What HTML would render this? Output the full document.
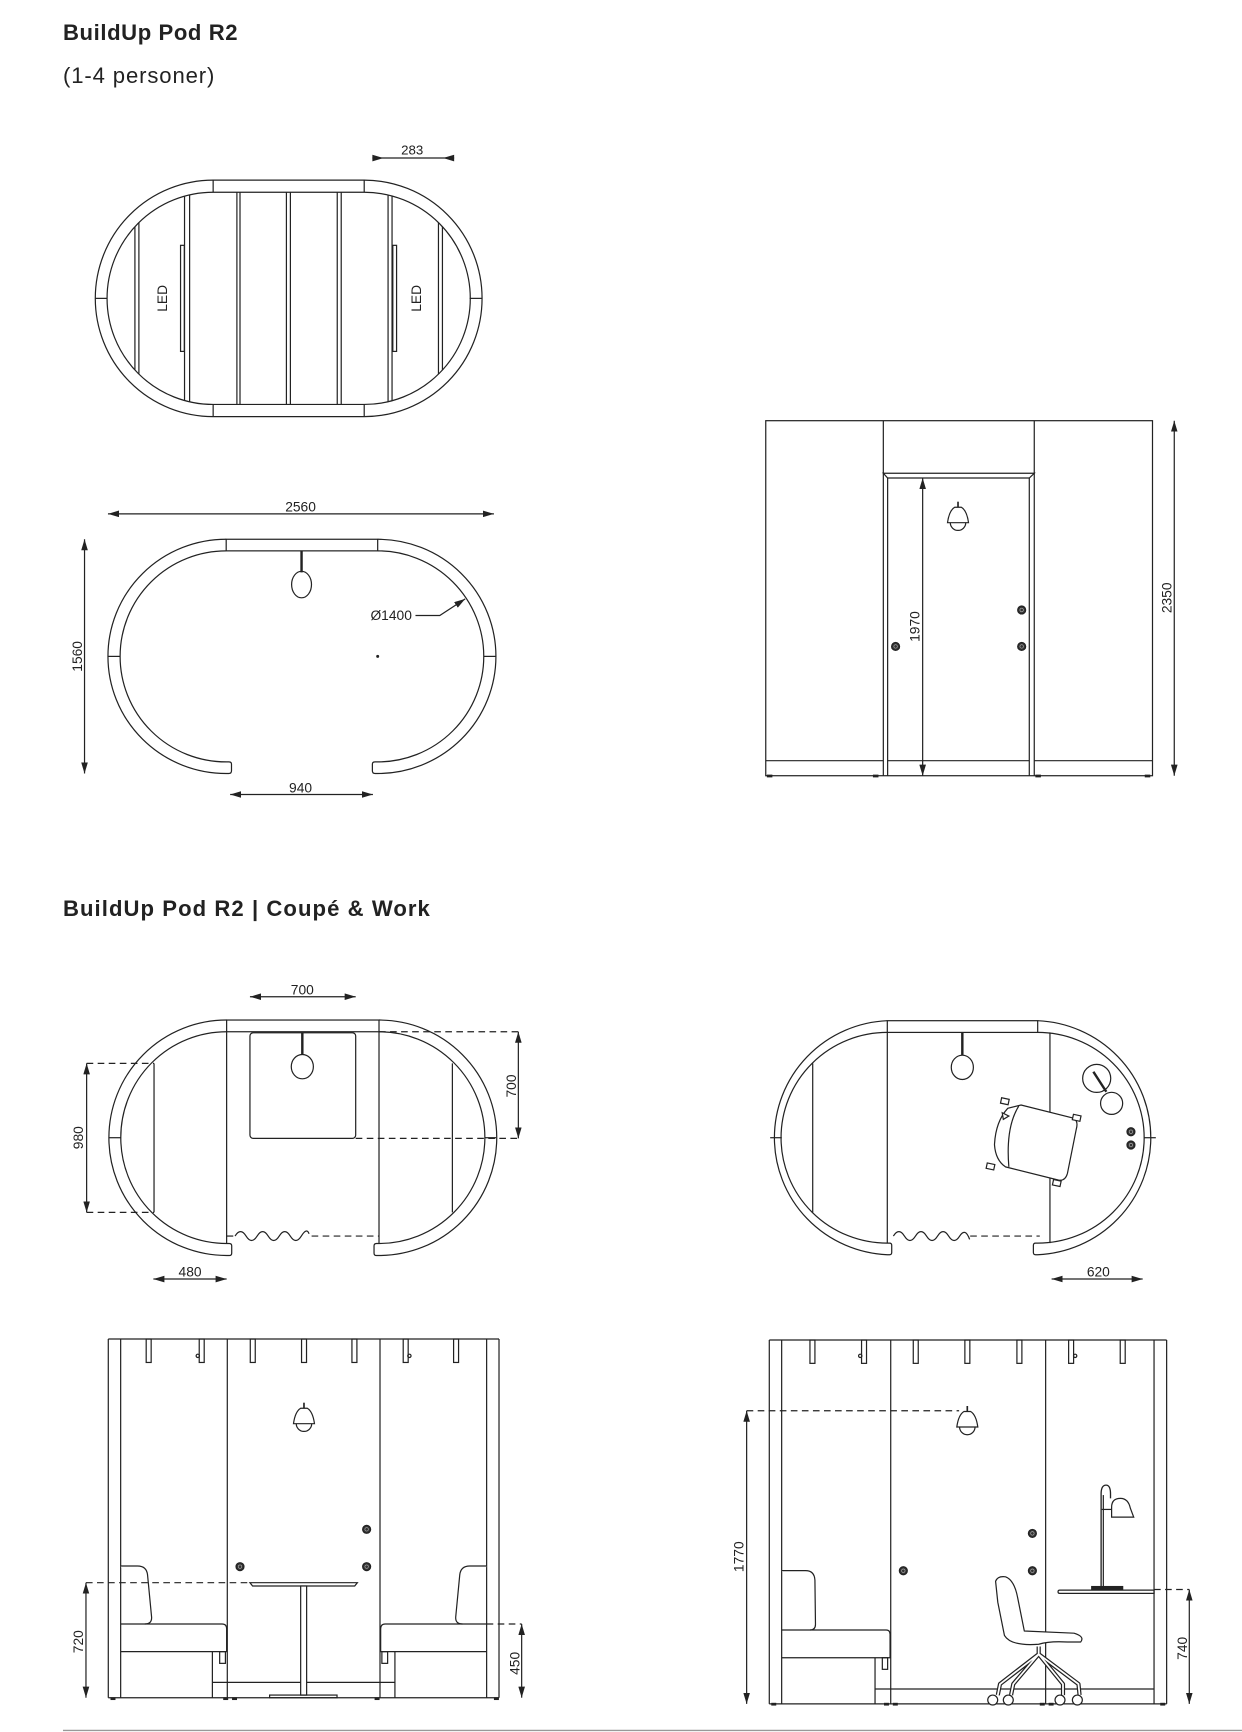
<!DOCTYPE html>
<html><head><meta charset="utf-8"><style>
html,body{margin:0;padding:0;background:#fff}
svg{display:block}
text{font-family:"Liberation Sans",sans-serif;fill:#222}
</style></head><body>
<svg width="1242" height="1732" viewBox="0 0 1124 1567.4" xmlns="http://www.w3.org/2000/svg">
<defs>
<marker id="a" viewBox="0 0 10 6" refX="10" refY="3" markerWidth="10" markerHeight="6" markerUnits="userSpaceOnUse" orient="auto-start-reverse"><path d="M0,0 L10,3 L0,6 Z" fill="#222"/></marker>
<clipPath id="c1"><path d="M192.9,174 H329.6 A96,96 0 0 1 329.6,366 H192.9 A96,96 0 0 1 192.9,174 Z"/></clipPath>
<g id="lamp"><line x1="0" y1="0" x2="0" y2="5" stroke="#222" stroke-width="1.5"/><path d="M-3,5 Q-8,8 -9.5,19 L9.5,19 Q8,8 3,5 Z" fill="#fff" stroke="#222" stroke-width="1.1"/><path d="M-7,19 A7,7 0 0 0 7,19" fill="none" stroke="#222" stroke-width="1.1"/></g>
<g id="dot"><circle r="3.6" fill="#333"/><circle r="1.6" fill="none" stroke="#aaa" stroke-width="0.6"/></g>
</defs>
<g stroke="#222" stroke-width="1.1" fill="none">

<!-- Titles -->
<text x="57" y="36" font-size="20" font-weight="bold" stroke="none" textLength="158">BuildUp Pod R2</text>
<text x="57" y="75" font-size="20" stroke="none" textLength="137">(1-4 personer)</text>
<text x="57" y="829" font-size="20" font-weight="bold" stroke="none" textLength="332">BuildUp Pod R2 | Coupé &amp; Work</text>

<!-- Plan 1 -->
<path d="M192.9,163 H329.6 A106.7,107 0 0 1 329.6,377 H192.9 A106.7,107 0 0 1 192.9,163 Z"/>
<path d="M192.9,174 H329.6 A96,96 0 0 1 329.6,366 H192.9 A96,96 0 0 1 192.9,174 Z"/>
<line x1="192.9" y1="163" x2="192.9" y2="174"/><line x1="329.6" y1="163" x2="329.6" y2="174"/>
<line x1="192.9" y1="366" x2="192.9" y2="377"/><line x1="329.6" y1="366" x2="329.6" y2="377"/>
<line x1="86" y1="270" x2="97" y2="270"/><line x1="425" y1="270" x2="436" y2="270"/>
<g clip-path="url(#c1)">
<path d="M122.1,170V370M125.7,170V370M167,170V370M171.6,170V370M214.4,170V370M217.2,170V370M259.2,170V370M262.8,170V370M305.2,170V370M308.8,170V370M351.2,170V370M354.8,170V370M396.8,170V370M400.4,170V370"/>
</g>
<rect x="163.4" y="222" width="3.4" height="96"/>
<rect x="355.5" y="222" width="3.4" height="96"/>
<text transform="translate(151,270) rotate(-90)" font-size="12.5" text-anchor="middle" stroke="none">LED</text>
<text transform="translate(381,270) rotate(-90)" font-size="12.5" text-anchor="middle" stroke="none">LED</text>
<line x1="337" y1="143" x2="411" y2="143"/>
<path d="M337,140 L347,143 L337,146 Z M411,140 L401,143 L411,146 Z" fill="#222" stroke="none"/>
<text x="373" y="140" font-size="12" text-anchor="middle" stroke="none">283</text>

<!-- Plan 2 -->
<line x1="97.7" y1="465" x2="447" y2="465" marker-start="url(#a)" marker-end="url(#a)"/>
<text x="272" y="463" font-size="12.5" text-anchor="middle" stroke="none">2560</text>
<rect x="204.7" y="488" width="137.1" height="10.5"/>
<path d="M204.7,488 A107,106 0 0 0 204.7,700 H207 Q209.5,700 209.5,697.5 V691.5 Q209.5,689.5 207,689.5 H204.7 A96,95.5 0 0 1 204.7,498.5"/>
<path d="M341.8,488 A107,106 0 0 1 341.8,700 H339.5 Q337,700 337,697.5 V691.5 Q337,689.5 339.5,689.5 H341.8 A96,95.5 0 0 0 341.8,498.5"/>
<line x1="98" y1="594" x2="108.5" y2="594"/><line x1="438" y1="594" x2="448.5" y2="594"/>
<line x1="272.9" y1="498.5" x2="272.9" y2="518" stroke-width="2.2"/>
<ellipse cx="272.9" cy="529" rx="9" ry="12"/>
<text x="354" y="561" font-size="12.5" text-anchor="middle" stroke="none">Ø1400</text>
<polyline points="376,557 398,557 421,542" marker-end="url(#a)"/>
<circle cx="341.8" cy="594" r="0.8" fill="#222"/>
<line x1="76.5" y1="488" x2="76.5" y2="700" marker-start="url(#a)" marker-end="url(#a)"/>
<text transform="translate(74,594) rotate(-90)" font-size="12.5" text-anchor="middle" stroke="none">1560</text>
<line x1="208.3" y1="719" x2="337.5" y2="719" marker-start="url(#a)" marker-end="url(#a)"/>
<text x="272" y="717" font-size="12.5" text-anchor="middle" stroke="none">940</text>

<!-- Elevation top right -->
<rect x="693" y="380.7" width="350" height="321.3"/>
<line x1="799.4" y1="380.7" x2="799.4" y2="702"/><line x1="936" y1="380.7" x2="936" y2="702"/>
<path d="M799.4,428.3 H936 L931.5,432.6 H803.3 Z"/>
<line x1="803.3" y1="432.6" x2="803.3" y2="702"/><line x1="931.5" y1="432.6" x2="931.5" y2="702"/>
<line x1="693" y1="688.4" x2="799.4" y2="688.4"/><line x1="803.3" y1="688.4" x2="931.5" y2="688.4"/><line x1="936" y1="688.4" x2="1043" y2="688.4"/>
<g fill="#222" stroke="none"><rect x="694" y="701" width="5" height="2.5"/><rect x="790" y="701" width="5" height="2.5"/><rect x="937" y="701" width="5" height="2.5"/><rect x="1036" y="701" width="5" height="2.5"/></g>
<use href="#lamp" x="867" y="454"/>
<use href="#dot" x="810.5" y="585"/><use href="#dot" x="924.6" y="552"/><use href="#dot" x="924.6" y="585"/>
<line x1="835" y1="432.6" x2="835" y2="702" marker-start="url(#a)" marker-end="url(#a)"/>
<text transform="translate(832,567) rotate(-90)" font-size="12.5" text-anchor="middle" stroke="none">1970</text>
<line x1="1062.7" y1="380.7" x2="1062.7" y2="702" marker-start="url(#a)" marker-end="url(#a)"/>
<text transform="translate(1060,541) rotate(-90)" font-size="12.5" text-anchor="middle" stroke="none">2350</text>

<!-- Plan 3 -->
<line x1="226.2" y1="902" x2="321.9" y2="902" marker-start="url(#a)" marker-end="url(#a)"/>
<text x="273.6" y="900" font-size="12.5" text-anchor="middle" stroke="none">700</text>
<rect x="205.1" y="923.1" width="137.9" height="10.6"/>
<path d="M205.1,923.1 A106.5,106.5 0 0 0 205.1,1136.2 H207.5 Q209.7,1136.2 209.7,1134 V1127.5 Q209.7,1125.3 207.5,1125.3 H205.1 A95.5,95.5 0 0 1 205.1,933.7"/>
<path d="M343,923.1 A106.5,106.5 0 0 1 343,1136.2 H340.7 Q338.5,1136.2 338.5,1134 V1127.5 Q338.5,1125.3 340.7,1125.3 H343 A95.5,95.5 0 0 0 343,933.7"/>
<line x1="205.1" y1="933.7" x2="205.1" y2="1125.3"/><line x1="343" y1="933.7" x2="343" y2="1125.3"/>
<line x1="99" y1="1029.6" x2="109.6" y2="1029.6"/><line x1="438.5" y1="1029.6" x2="449" y2="1029.6"/>
<line x1="139.4" y1="962.3" x2="139.4" y2="1097.2"/><line x1="409.4" y1="962.3" x2="409.4" y2="1097.2"/>
<rect x="226.2" y="934.6" width="95.7" height="95.6" rx="3"/>
<line x1="273.6" y1="934.6" x2="273.6" y2="954.5" stroke-width="2.2"/>
<ellipse cx="273.6" cy="965.3" rx="10" ry="11"/>
<g stroke-dasharray="6,4">
<line x1="343" y1="933.7" x2="470.6" y2="933.7"/>
<line x1="321.9" y1="1030.2" x2="470.6" y2="1030.2"/>
<line x1="78.4" y1="962.3" x2="139.4" y2="962.3"/>
<line x1="78.4" y1="1097.2" x2="139.4" y2="1097.2"/>
<line x1="282" y1="1118.6" x2="343" y2="1118.6"/>
<line x1="205.1" y1="1118.6" x2="212" y2="1118.6"/>
</g>
<path d="M212.7,1118.6 q5,-8 10,0 t10,0 t10,0 t10,0 t10,0 t10,0 t7,-2"/>
<line x1="469.1" y1="933.7" x2="469.1" y2="1030.2" marker-start="url(#a)" marker-end="url(#a)"/>
<text transform="translate(467,982.8) rotate(-90)" font-size="12.5" text-anchor="middle" stroke="none">700</text>
<line x1="78.4" y1="962.3" x2="78.4" y2="1097.2" marker-start="url(#a)" marker-end="url(#a)"/>
<text transform="translate(75,1029.6) rotate(-90)" font-size="12.5" text-anchor="middle" stroke="none">980</text>
<line x1="138.8" y1="1157.5" x2="205.1" y2="1157.5" marker-start="url(#a)" marker-end="url(#a)"/>
<text x="172" y="1155" font-size="12.5" text-anchor="middle" stroke="none">480</text>

<!-- Plan 4 -->
<rect x="803" y="923.7" width="136.1" height="10.6"/>
<path d="M803,923.7 A106.8,106 0 0 0 803,1135.5 H805 Q807,1135.5 807,1133.5 V1127 Q807,1125 805,1125 H803 A95.8,95 0 0 1 803,934.3"/>
<path d="M939.1,923.7 A107,106 0 0 1 939.1,1135.5 H937.2 Q935.2,1135.5 935.2,1133.5 V1127 Q935.2,1125 937.2,1125 H939.1 A96,95 0 0 0 939.1,934.3"/>
<line x1="803" y1="934.3" x2="803" y2="1125"/><line x1="950.2" y1="934.3" x2="950.2" y2="1125"/>
<line x1="697" y1="1029.6" x2="707.5" y2="1029.6"/><line x1="1035.3" y1="1029.6" x2="1046" y2="1029.6"/>
<line x1="735.5" y1="962.3" x2="735.5" y2="1097.2"/>
<line x1="870.9" y1="934.6" x2="870.9" y2="954.8" stroke-width="2.2"/>
<ellipse cx="870.9" cy="965.9" rx="10" ry="11"/>
<circle cx="992.5" cy="975.9" r="12.7"/><circle cx="1006" cy="998.5" r="10"/>
<line x1="989.5" y1="969.9" x2="1001.2" y2="988" stroke-width="2.2"/>
<use href="#dot" x="1023.5" y="1024.2"/><use href="#dot" x="1023.5" y="1036.2"/>
<path d="M924,1000 L972,1012 Q976,1015 974,1022 L966,1062 Q964,1069 958,1068 L910,1056 Q901,1050 900,1036 Q901,1015 912,1003 Z" fill="#fff"/>
<path d="M922,1001 Q910,1020 913,1056"/>
<g fill="#fff"><rect x="906" y="994" width="7" height="5" transform="rotate(12 909 996)"/><rect x="971" y="1009" width="7" height="5" transform="rotate(12 974 1011)"/><rect x="953" y="1068" width="7" height="5" transform="rotate(12 956 1070)"/><rect x="893" y="1053" width="7" height="5" transform="rotate(12 896 1055)"/><path d="M907,1007 L913,1010 L908,1013 Z"/></g>
<line x1="878" y1="1118.6" x2="941" y2="1118.6" stroke-dasharray="6,4"/>
<path d="M808.5,1118.6 q5,-8 10,0 t10,0 t10,0 t10,0 t10,0 t10,0 t9,3"/>
<line x1="951.7" y1="1157.5" x2="1034.1" y2="1157.5" marker-start="url(#a)" marker-end="url(#a)"/>
<text x="994" y="1155" font-size="12.5" text-anchor="middle" stroke="none">620</text>

<!-- Elevation bottom left -->
<line x1="98" y1="1211.8" x2="451.6" y2="1211.8"/>
<line x1="98" y1="1211.8" x2="98" y2="1536.4"/><line x1="451.6" y1="1211.8" x2="451.6" y2="1536.4"/>
<line x1="98" y1="1536.4" x2="451.6" y2="1536.4"/>
<line x1="109.2" y1="1211.8" x2="109.2" y2="1536.4"/><line x1="440.4" y1="1211.8" x2="440.4" y2="1536.4"/>
<line x1="205.7" y1="1211.8" x2="205.7" y2="1536.4"/><line x1="343.9" y1="1211.8" x2="343.9" y2="1536.4"/>
<g><rect x="132.3" y="1211.8" width="4.5" height="21.2"/><rect x="180.3" y="1211.8" width="4.5" height="21.2"/><rect x="226.5" y="1211.8" width="4.5" height="21.2"/><rect x="272.9" y="1211.8" width="4.5" height="21.2"/><rect x="318.5" y="1211.8" width="4.5" height="21.2"/><rect x="364.9" y="1211.8" width="4.5" height="21.2"/><rect x="410.5" y="1211.8" width="4.5" height="21.2"/>
<circle cx="179" cy="1227" r="1.5"/><circle cx="370.5" cy="1227" r="1.5"/></g>
<use href="#lamp" x="275.1" y="1269.4"/>
<use href="#dot" x="217.2" y="1417.8"/><use href="#dot" x="331.8" y="1384"/><use href="#dot" x="331.8" y="1417.8"/>
<g id="bench">
<path d="M109.2,1417.2 H124.5 Q132.5,1417.2 133.5,1425 L137.2,1463.5 Q137.5,1469.7 131,1469.7" fill="#fff"/>
<path d="M109.2,1469.7 H201 Q205.1,1469.7 205.1,1474 V1494.7 H109.2"/>
<line x1="192.2" y1="1494.7" x2="192.2" y2="1536.4"/>
<rect x="198.8" y="1494.7" width="5.2" height="10.6"/>
</g>
<use href="#bench" transform="translate(549.6,0) scale(-1,1)"/>
<line x1="192.2" y1="1522.5" x2="357.4" y2="1522.5"/>
<path d="M226.2,1432.3 H323.4 L321,1435.3 H228.6 Z"/>
<rect x="272.1" y="1435.3" width="5.4" height="98.7" fill="#fff"/>
<rect x="244" y="1534" width="61" height="2.4"/>
<g fill="#222" stroke="none"><rect x="100" y="1536" width="4.5" height="2.5"/><rect x="202" y="1536" width="4.5" height="2.5"/><rect x="210" y="1536" width="4.5" height="2.5"/><rect x="339" y="1536" width="4.5" height="2.5"/><rect x="447" y="1536" width="4.5" height="2.5"/></g>
<g stroke-dasharray="6,4"><line x1="77.8" y1="1432.3" x2="226.2" y2="1432.3"/><line x1="440.4" y1="1469.7" x2="472.1" y2="1469.7"/></g>
<line x1="77.8" y1="1432.3" x2="77.8" y2="1536.4" marker-start="url(#a)" marker-end="url(#a)"/>
<text transform="translate(75,1485.7) rotate(-90)" font-size="12.5" text-anchor="middle" stroke="none">720</text>
<line x1="472.1" y1="1469.7" x2="472.1" y2="1536.4" marker-start="url(#a)" marker-end="url(#a)"/>
<text transform="translate(470,1505.3) rotate(-90)" font-size="12.5" text-anchor="middle" stroke="none">450</text>

<!-- Elevation bottom right -->
<line x1="696.2" y1="1212.7" x2="1055.8" y2="1212.7"/>
<line x1="696.2" y1="1212.7" x2="696.2" y2="1542"/><line x1="1055.8" y1="1212.7" x2="1055.8" y2="1542"/>
<line x1="696.2" y1="1542" x2="1055.8" y2="1542"/>
<line x1="707.4" y1="1212.7" x2="707.4" y2="1542"/><line x1="1044.4" y1="1212.7" x2="1044.4" y2="1542"/>
<line x1="806.1" y1="1212.7" x2="806.1" y2="1542"/><line x1="946.3" y1="1212.7" x2="946.3" y2="1542"/>
<g><rect x="733" y="1212.7" width="4.5" height="21.1"/><rect x="779.7" y="1212.7" width="4.5" height="21.1"/><rect x="826.5" y="1212.7" width="4.5" height="21.1"/><rect x="873.2" y="1212.7" width="4.5" height="21.1"/><rect x="920.3" y="1212.7" width="4.5" height="21.1"/><rect x="967.1" y="1212.7" width="4.5" height="21.1"/><rect x="1013.8" y="1212.7" width="4.5" height="21.1"/>
<circle cx="778.5" cy="1227" r="1.5"/><circle cx="973" cy="1227" r="1.5"/></g>
<use href="#lamp" x="875.4" y="1272.4"/>
<use href="#dot" x="817.5" y="1421.5"/><use href="#dot" x="934.3" y="1387.7"/><use href="#dot" x="934.3" y="1421.5"/>
<path d="M707.4,1421.4 H729 Q737,1421.4 737.5,1430 L738,1470 Q738,1475.1 733,1475.1" fill="#fff"/>
<path d="M707.4,1475.1 H802 Q805.5,1475.1 805.5,1479 V1500.2 H707.4"/>
<line x1="791.9" y1="1500.2" x2="791.9" y2="1542"/>
<rect x="798.5" y="1500.2" width="4.8" height="10.5"/>
<line x1="791.9" y1="1528.5" x2="1044.4" y2="1528.5"/>
<g fill="#222" stroke="none"><rect x="698" y="1541" width="4.5" height="2.5"/><rect x="800" y="1541" width="4.5" height="2.5"/><rect x="808" y="1541" width="4.5" height="2.5"/><rect x="941" y="1541" width="4.5" height="2.5"/><rect x="949" y="1541" width="4.5" height="2.5"/><rect x="1050" y="1541" width="4.5" height="2.5"/></g>
<!-- desk -->
<path d="M959,1439 H1044.4 V1442 H959 Q957.5,1442 957.5,1440.5 Q957.5,1439 959,1439 Z"/>
<rect x="988" y="1435.8" width="28" height="2.4" fill="#222"/>
<path d="M996.5,1437 V1352 Q996.5,1344 1001,1344 Q1005,1344 1005,1352 V1356" stroke-width="1.2"/>
<line x1="998.5" y1="1437" x2="998.5" y2="1353"/>
<line x1="997" y1="1366" x2="1006" y2="1366"/>
<path d="M1006,1373 L1006,1364 Q1006,1356 1014,1356 Q1021,1356 1023,1365 L1026,1373 Z" fill="#fff"/>
<g stroke-dasharray="6,4"><line x1="675.7" y1="1276.7" x2="868" y2="1276.7"/><line x1="1044.4" y1="1438.5" x2="1076.3" y2="1438.5"/></g>
<line x1="675.7" y1="1276.7" x2="675.7" y2="1542" marker-start="url(#a)" marker-end="url(#a)"/>
<text transform="translate(673,1408.8) rotate(-90)" font-size="12.5" text-anchor="middle" stroke="none">1770</text>
<line x1="1076.3" y1="1438.5" x2="1076.3" y2="1542" marker-start="url(#a)" marker-end="url(#a)"/>
<text transform="translate(1074,1491.7) rotate(-90)" font-size="12.5" text-anchor="middle" stroke="none">740</text>
<!-- chair -->
<g stroke-linejoin="round">
<path d="M940,1490 L940,1497 L905,1524 L903,1534 M940,1497 L917,1524 L915,1534 M940,1497 L962,1524 L962,1534 M940,1497 L976,1524 L977,1534" stroke="#222" stroke-width="3.8"/>
<path d="M940,1490 L940,1497 L905,1524 L903,1534 M940,1497 L917,1524 L915,1534 M940,1497 L962,1524 L962,1534 M940,1497 L976,1524 L977,1534" stroke="#fff" stroke-width="1.6"/>
<path d="M901,1431 Q903,1426 910,1427 Q918,1430 921,1446 L927,1476 L972,1478 Q982,1481 978,1486 L966,1486 Q950,1485 940,1488 Q915,1490 909,1480 L903,1450 Z" fill="#fff"/>
<circle cx="898.4" cy="1538.5" r="4.5" fill="#fff"/><circle cx="912.5" cy="1538.5" r="4.5" fill="#fff"/><circle cx="959.3" cy="1538.5" r="4.5" fill="#fff"/><circle cx="975" cy="1538.5" r="4.5" fill="#fff"/>
</g>

<line x1="57" y1="1566" x2="1124" y2="1566" stroke="#999" stroke-width="1.2"/>
</g>
</svg>
</body></html>
